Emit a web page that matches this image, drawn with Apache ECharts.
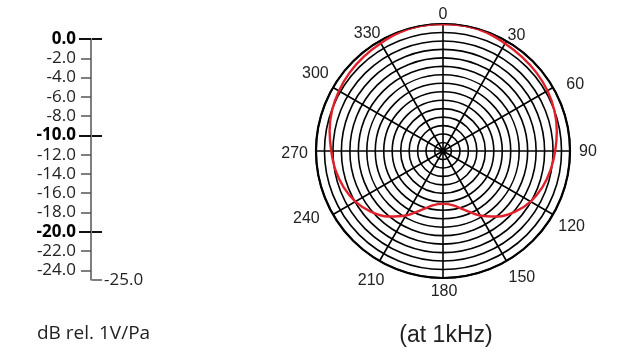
<!DOCTYPE html>
<html><head><meta charset="utf-8">
<script src="https://cdn.jsdelivr.net/npm/echarts@6/dist/echarts.min.js"></script>
<style>html,body{margin:0;padding:0;background:#fff}#c{width:618px;height:359px}</style>
</head><body><div id="c"></div>
<script>
// Left sensitivity scale
const scaleLabels = [0,-2,-4,-6,-8,-10,-12,-14,-16,-18,-20,-22,-24];
const majorScale = [0,-10,-20];
const scaleEnd = -25;
// Polar pattern (angle in degrees, level in dB)
const angles = [0,10,20,30,40,50,60,70,80,90,100,110,120,130,140,150,160,170,180,190,200,210,220,230,240,250,260,270,280,290,300,310,320,330,340,350,360];
const levels = [0,0,-0.2,-0.7,-1.0,-1.2,-1.5,-2.0,-2.7,-3.5,-4.2,-5.0,-6.1,-7.7,-9.8,-12.4,-15.2,-17.0,-17.5,-17.0,-15.2,-12.4,-9.8,-7.7,-6.1,-5.0,-4.2,-3.6,-2.8,-2.1,-1.6,-1.2,-0.9,-0.6,-0.2,0,0];
const polarMin = -30, polarMax = 0, ringStep = 2;
const title1 = 'dB rel. 1V/Pa';
const title2 = '(at 1kHz)';

const minorScale = scaleLabels.filter(v => majorScale.indexOf(v) < 0);
const chart = echarts.init(document.getElementById('c'));
const numFont = 'Open Sans';
const baseY = {gridIndex:0,type:'value',min:scaleEnd,max:0,splitLine:{show:false}};
// per-label padding [top,right,bottom,left] to fine-place angle labels
const angPad = {0:[0,0,11,0],30:[0,0,6,6],60:[0,0,0,22],90:[2,0,0,19],120:[9,0,0,14],150:[17,0,0,7],
  180:[16,0,0,2],210:[20,0,0,0],240:[1,22,0,0],270:[6,18,0,0],300:[0,13,11,0],330:[0,4,8,0]};
const angRich = {};
Object.keys(angPad).forEach(k => { angRich['p'+k] = {fontFamily:'Liberation Sans',fontSize:16,color:'#222',padding:angPad[k]}; });
chart.setOption({
  animation:false,
  title:[
    {text:title1,left:32,top:319,textStyle:{fontFamily:numFont,fontSize:19,fontWeight:'normal',color:'#222'}},
    {text:title2,left:441,textAlign:'center',top:319,textStyle:{fontFamily:'Liberation Sans',fontSize:23,fontWeight:'normal',color:'#222'}}
  ],
  grid:{left:91,width:1,top:39,bottom:79},
  xAxis:{gridIndex:0,type:'value',show:false},
  yAxis:[
    Object.assign({},baseY,{position:'left',
      axisLine:{show:true,lineStyle:{color:'#555',width:1.5}},
      axisTick:{show:true,customValues:minorScale,length:10,lineStyle:{color:'#555',width:1.5}},
      axisLabel:{show:true,customValues:scaleLabels,margin:15,fontFamily:numFont,fontSize:17,color:'#222',
        formatter:v=>majorScale.indexOf(v)>=0?'{b|'+v.toFixed(1)+'}':v.toFixed(1),
        rich:{b:{fontFamily:numFont,fontSize:17,fontWeight:'bold',color:'#000'}}}}),
    Object.assign({},baseY,{position:'left',axisLine:{show:false},
      axisTick:{show:true,customValues:majorScale,length:12,lineStyle:{color:'#111',width:2}},
      axisLabel:{show:false}}),
    Object.assign({},baseY,{position:'right',axisLine:{show:false},
      axisTick:{show:true,customValues:majorScale,length:10,lineStyle:{color:'#111',width:2}},
      axisLabel:{show:false}}),
    Object.assign({},baseY,{position:'right',axisLine:{show:false},
      axisTick:{show:true,customValues:[scaleEnd],length:10,lineStyle:{color:'#555',width:1.5}},
      axisLabel:{show:true,customValues:[scaleEnd],margin:12,fontFamily:numFont,fontSize:17,color:'#222',formatter:v=>v.toFixed(1)}})
  ],
  polar:{center:[443,151],radius:127},
  angleAxis:{type:'value',min:0,max:360,interval:30,startAngle:90,clockwise:true,
    axisLine:{show:true,lineStyle:{color:'#000',width:2.2}},
    axisTick:{show:false},
    axisLabel:{show:true,margin:-10,fontFamily:'Liberation Sans',fontSize:16,color:'#222',
      formatter:v=>v===360?'':'{p'+v+'|'+v+'}',rich:angRich},
    splitLine:{show:true,lineStyle:{color:'#000',width:1.6}}},
  radiusAxis:{type:'value',min:polarMin,max:polarMax,interval:ringStep,
    axisLine:{show:false},axisTick:{show:false},axisLabel:{show:false},
    splitLine:{show:true,lineStyle:{color:'#000',width:1.6}}},
  series:[{type:'line',coordinateSystem:'polar',symbol:'none',smooth:0.3,
    data:angles.map((a,i)=>[levels[i],a]),
    lineStyle:{color:'#e0202a',width:2.4}}]
});
</script></body></html>
